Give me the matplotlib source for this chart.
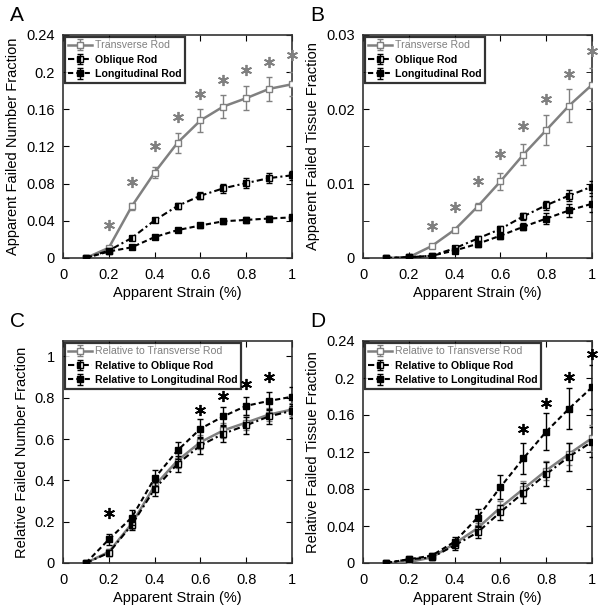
import numpy as np
import matplotlib.pyplot as plt
from matplotlib.ticker import FuncFormatter

plt.rcParams['font.family'] = ['Liberation Sans', 'DejaVu Sans']

# apparent strain (%)
strain = [0.1, 0.2, 0.3, 0.4, 0.5, 0.6, 0.7, 0.8, 0.9, 1.0]

# Panel A - apparent failed number fraction
A_trans = [0, 0.011, 0.0555, 0.092, 0.124, 0.148, 0.163, 0.172, 0.182, 0.187]
A_trans_err = [0, 0.002, 0.004, 0.006, 0.011, 0.012, 0.0125, 0.013, 0.013, 0.013]
A_obl = [0, 0.008, 0.0215, 0.0405, 0.056, 0.067, 0.075, 0.0806, 0.086, 0.089]
A_obl_err = [0, 0.001, 0.002, 0.002, 0.003, 0.004, 0.005, 0.005, 0.005, 0.005]
A_long = [0, 0.007, 0.0115, 0.0225, 0.030, 0.035, 0.0395, 0.041, 0.0425, 0.0437]
A_long_err = [0, 0.001, 0.001, 0.002, 0.002, 0.003, 0.003, 0.003, 0.003, 0.003]
A_star_x = [0.2, 0.3, 0.4, 0.5, 0.6, 0.7, 0.8, 0.9, 1.0]
A_star_y = [0.036, 0.082, 0.121, 0.152, 0.177, 0.192, 0.202, 0.211, 0.219]

# Panel B - apparent failed tissue fraction
B_trans = [0, 0.0001, 0.0016, 0.0038, 0.0069, 0.0103, 0.0139, 0.0172, 0.0205, 0.0233]
B_trans_err = [0, 0.0001, 0.0002, 0.0003, 0.0005, 0.0011, 0.0014, 0.002, 0.0022, 0.0022]
B_obl = [0, 0.0001, 0.0003, 0.0013, 0.0026, 0.0039, 0.0056, 0.0071, 0.0084, 0.0096]
B_obl_err = [0, 0, 0.0001, 0.0002, 0.0003, 0.0004, 0.0005, 0.0006, 0.0007, 0.0008]
B_long = [0, 0.0001, 0.0003, 0.0010, 0.0019, 0.0030, 0.0042, 0.0053, 0.0064, 0.0073]
B_long_err = [0, 0, 0.0001, 0.0003, 0.0004, 0.0004, 0.0005, 0.0007, 0.0009, 0.0011]
B_star_x = [0.3, 0.4, 0.5, 0.6, 0.7, 0.8, 0.9, 1.0]
B_star_y = [0.0043, 0.0069, 0.0103, 0.014, 0.0177, 0.0214, 0.0248, 0.0278]

# Panel C - relative failed number fraction
C_trans = [0, 0.054, 0.19, 0.374, 0.496, 0.585, 0.642, 0.68, 0.719, 0.743]
C_trans_err = [0, 0.015, 0.025, 0.03, 0.035, 0.035, 0.035, 0.035, 0.03, 0.03]
C_obl = [0, 0.049, 0.184, 0.358, 0.48, 0.569, 0.626, 0.667, 0.71, 0.737]
C_obl_err = [0, 0.015, 0.025, 0.035, 0.04, 0.04, 0.04, 0.04, 0.035, 0.035]
C_long = [0, 0.114, 0.22, 0.411, 0.545, 0.65, 0.71, 0.761, 0.785, 0.805]
C_long_err = [0, 0.025, 0.035, 0.04, 0.04, 0.045, 0.045, 0.045, 0.045, 0.045]
C_star_x = [0.2, 0.6, 0.7, 0.8, 0.9]
C_star_y = [0.244, 0.743, 0.808, 0.865, 0.9]

# Panel D - relative failed tissue fraction
D_trans = [0, 0.001, 0.006, 0.021, 0.0376, 0.06, 0.08, 0.1, 0.118, 0.135]
D_trans_err = [0, 0.001, 0.002, 0.004, 0.006, 0.007, 0.009, 0.01, 0.012, 0.014]
D_obl = [0, 0.004, 0.006, 0.019, 0.033, 0.055, 0.076, 0.096, 0.115, 0.131]
D_obl_err = [0, 0.002, 0.003, 0.005, 0.006, 0.008, 0.011, 0.013, 0.015, 0.016]
D_long = [0, 0.004, 0.008, 0.023, 0.049, 0.082, 0.113, 0.142, 0.167, 0.19]
D_long_err = [0, 0.002, 0.003, 0.005, 0.009, 0.013, 0.017, 0.02, 0.022, 0.024]
D_star_x = [0.7, 0.8, 0.9, 1.0]
D_star_y = [0.145, 0.173, 0.201, 0.226]

GRAY = '#808080'

fig = plt.figure(figsize=(6.02, 6.15), dpi=100)
W, H = 602, 615


def make_ax(l, r, t, b):
    return fig.add_axes([l / W, 1 - b / H, (r - l) / W, (b - t) / H])


def panel(ax, trans, trans_err, obl, obl_err, lng, lng_err, sx, sy, star_color,
          names, ylim, yticks, ylabel, letter, yminor=None):
    h1 = ax.errorbar(strain, trans, yerr=trans_err, color=GRAY, lw=1.8, ls='-',
                     marker='s', ms=5, mfc='white', mec=GRAY, mew=1,
                     ecolor=GRAY, elinewidth=1, capsize=2.5, zorder=3)
    h2 = ax.errorbar(strain, obl, yerr=obl_err, color='black', lw=1.5,
                     ls=(0, (3, 1.5, 1, 1.5)),
                     marker='s', ms=5, fillstyle='left', mfc='black', mfcalt='white',
                     mec='black', mew=1, ecolor='black', elinewidth=1, capsize=2.5,
                     zorder=4)
    h3 = ax.errorbar(strain, lng, yerr=lng_err, color='black', lw=1.5,
                     ls=(0, (2.5, 1.5)),
                     marker='s', ms=5, mfc='black', mec='black',
                     ecolor='black', elinewidth=1, capsize=2.5, zorder=5)
    ax.plot(sx, sy, ls='none', marker=(6, 2, 0), ms=8, mew=1.3, color=star_color,
            zorder=6, clip_on=False)
    ax.set_xlim(0, 1)
    ax.set_ylim(*ylim)
    ax.set_xticks([0, 0.2, 0.4, 0.6, 0.8, 1.0])
    ax.set_yticks(yticks)
    if yminor is not None:
        ax.set_yticks(yminor, minor=True)
    fmt = FuncFormatter(lambda v, p: ('%.2f' % v).rstrip('0').rstrip('.') if v else '0')
    ax.xaxis.set_major_formatter(fmt)
    ax.yaxis.set_major_formatter(fmt)
    ax.tick_params(direction='in', top=True, right=True, length=4, width=0.8,
                   labelsize=10.5)
    ax.tick_params(axis='x', pad=7)
    ax.tick_params(axis='y', pad=6)
    ax.tick_params(which='minor', direction='in', right=True, left=True, length=4)
    for s in ax.spines.values():
        s.set_linewidth(1.2)
        s.set_color('#333333')
    ax.set_xlabel('Apparent Strain (%)', fontsize=10.5, labelpad=3)
    ax.set_ylabel(ylabel, fontsize=10.5, labelpad=4)
    leg = ax.legend([h1, h2, h3], names, loc='upper left', fontsize=7.6,
                    frameon=True, fancybox=False, borderaxespad=0.15,
                    handlelength=2.2, handletextpad=0.3, borderpad=0.35,
                    labelspacing=0.42)
    leg.get_frame().set_edgecolor('black')
    leg.get_frame().set_linewidth(1.6)
    texts = leg.get_texts()
    texts[0].set_color(GRAY)
    texts[1].set_fontweight('bold')
    texts[2].set_fontweight('bold')
    pos = ax.get_position()
    fig.text(pos.x0 - 53 / W, pos.y1 + 10 / H, letter, fontsize=15, ha='left',
             va='bottom')


rod_names = ['Transverse Rod', 'Oblique Rod', 'Longitudinal Rod']
rel_names = ['Relative to Transverse Rod', 'Relative to Oblique Rod',
             'Relative to Longitudinal Rod']

axA = make_ax(63, 292, 35, 258)
panel(axA, A_trans, A_trans_err, A_obl, A_obl_err, A_long, A_long_err,
      A_star_x, A_star_y, GRAY, rod_names, (0, 0.24),
      [0, 0.04, 0.08, 0.12, 0.16, 0.2, 0.24], 'Apparent Failed Number Fraction', 'A')

axB = make_ax(363, 592, 35, 258)
panel(axB, B_trans, B_trans_err, B_obl, B_obl_err, B_long, B_long_err,
      B_star_x, B_star_y, GRAY, rod_names, (0, 0.03),
      [0, 0.01, 0.02, 0.03], 'Apparent Failed Tissue Fraction', 'B',
      yminor=[0.005, 0.015, 0.025])

axC = make_ax(63, 292, 341, 563)
panel(axC, C_trans, C_trans_err, C_obl, C_obl_err, C_long, C_long_err,
      C_star_x, C_star_y, 'black', rel_names, (0, 1.075),
      [0, 0.2, 0.4, 0.6, 0.8, 1.0], 'Relative Failed Number Fraction', 'C')

axD = make_ax(363, 592, 341, 563)
panel(axD, D_trans, D_trans_err, D_obl, D_obl_err, D_long, D_long_err,
      D_star_x, D_star_y, 'black', rel_names, (0, 0.24),
      [0, 0.04, 0.08, 0.12, 0.16, 0.2, 0.24], 'Relative Failed Tissue Fraction', 'D')

plt.savefig('out.png', dpi=100)
